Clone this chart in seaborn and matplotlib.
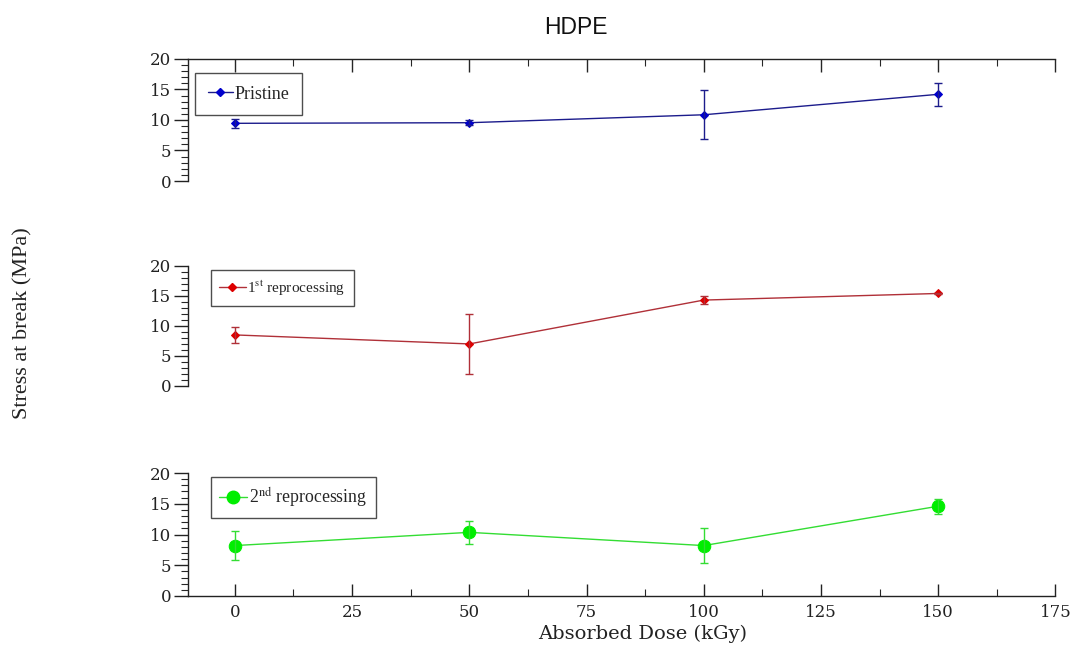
import matplotlib
matplotlib.use("Agg")
import matplotlib.pyplot as plt
from matplotlib.ticker import MultipleLocator
from matplotlib.lines import Line2D
import seaborn as sns
import pandas as pd

# ---- data ----
dose = [0, 50, 100, 150]
pristine = [9.45, 9.55, 10.85, 14.2]
pristine_err = [0.75, 0.4, 4.05, 1.9]
rep1 = [8.5, 7.0, 14.3, 15.4]
rep1_err = [1.4, 5.0, 0.7, 0.1]
rep2 = [8.2, 10.35, 8.2, 14.6]
rep2_err = [2.4, 1.85, 2.85, 1.25]
series_labels = ["Pristine", r"1$^{\mathrm{st}}$ reprocessing", r"2$^{\mathrm{nd}}$ reprocessing"]
x_ticks = [0, 25, 50, 75, 100, 125, 150, 175]
y_ticks = [0, 5, 10, 15, 20]

sns.set_theme(style="white")
plt.rcParams["font.family"] = ["DejaVu Serif"]
plt.rcParams["mathtext.fontset"] = "stix"

fig = plt.figure(figsize=(10.71, 6.46), dpi=100)
left, width = 0.1755, 0.81
boxes = [(0.7198, 0.189), (0.4025, 0.186), (0.0774, 0.1904)]

series = [
    (pristine, pristine_err, "#1c1c8c", "#0000cc", "D", 4, 1.0),
    (rep1, rep1_err, "#b03038", "#dd0000", "D", 4, 1.0),
    (rep2, rep2_err, "#33dd33", "#00ee00", "o", 9, 1.0),
]
legend_specs = [
    dict(anchor=(0.008, 0.885), fontsize=13, family="Liberation Serif", hl=1.4, bp=0.7),
    dict(anchor=(0.026, 0.965), fontsize=11, family="Liberation Serif", hl=1.75, bp=0.55),
    dict(anchor=(0.026, 0.97), fontsize=12.8, family="Liberation Serif", hl=1.55, bp=0.5),
]

axes = []
for i, ((bot, h), (vals, errs, lc, mc, mk, ms, lw), lab, lspec) in enumerate(
        zip(boxes, series, series_labels, legend_specs)):
    ax = fig.add_axes([left, bot, width, h])
    axes.append(ax)
    df = pd.DataFrame({"dose": dose, "val": vals})
    sns.lineplot(data=df, x="dose", y="val", ax=ax, color=lc, linewidth=lw,
                 marker=mk, markersize=ms, markerfacecolor=mc, markeredgecolor=mc)
    ax.errorbar(dose, vals, yerr=errs, fmt="none", ecolor=lc, elinewidth=1.0,
                capsize=3, capthick=1.0)
    ax.set_xlim(-10, 175)
    ax.set_ylim(0, 20)
    ax.set_xlabel("")
    ax.set_ylabel("")
    ax.set_yticks(y_ticks)
    ax.yaxis.set_minor_locator(MultipleLocator(1))
    ax.tick_params(axis="y", which="major", direction="out", length=10, width=1,
                   labelsize=12, pad=2, left=True, colors="#222222")
    ax.tick_params(axis="y", which="minor", direction="out", length=5, width=0.8, left=True)
    ax.set_xticks(x_ticks)
    ax.xaxis.set_minor_locator(MultipleLocator(12.5))
    for s in ["left", "right", "top", "bottom"]:
        ax.spines[s].set_color("#222222")
        ax.spines[s].set_linewidth(1.0)
    ax.spines["right"].set_visible(False)
    if i == 0:
        ax.spines["bottom"].set_visible(False)
        ax.xaxis.tick_top()
        ax.tick_params(axis="x", which="major", direction="in", length=9, width=1,
                       top=True, bottom=False, labeltop=False, labelbottom=False)
        ax.tick_params(axis="x", which="minor", direction="in", length=5, width=0.8,
                       top=True, bottom=False)
    elif i == 1:
        ax.spines["bottom"].set_visible(False)
        ax.spines["top"].set_visible(False)
        ax.tick_params(axis="x", which="both", top=False, bottom=False,
                       labeltop=False, labelbottom=False)
    else:
        ax.spines["top"].set_visible(False)
        ax.tick_params(axis="x", which="major", direction="in", length=9, width=1,
                       bottom=True, top=False, labelsize=12, pad=6, colors="#222222")
        ax.tick_params(axis="x", which="minor", direction="in", length=5, width=0.8,
                       bottom=True, top=False)
    handle = Line2D([], [], color=lc, linewidth=lw, marker=mk, markersize=ms,
                    markerfacecolor=mc, markeredgecolor=mc)
    leg = ax.legend([handle], [lab], loc="upper left", bbox_to_anchor=lspec["anchor"],
                    prop={"family": lspec["family"], "size": lspec["fontsize"]},
                    frameon=True, fancybox=False, handlelength=lspec["hl"], handletextpad=0.1,
                    borderpad=lspec["bp"], borderaxespad=0)
    leg.get_frame().set_edgecolor("#222222")
    leg.get_frame().set_linewidth(1.0)

fig.text(0.538, 0.958, "HDPE", ha="center", va="center", fontsize=16.5,
         family="Liberation Sans", color="#111111")
fig.text(0.021, 0.50, "Stress at break (MPa)", ha="center", va="center", rotation=90,
         fontsize=16, family="Liberation Serif", color="#222222")
fig.text(0.600, 0.018, "Absorbed Dose (kGy)", ha="center", va="center",
         fontsize=14, family="DejaVu Serif", color="#222222")

fig.savefig("out.png", dpi=100, facecolor="white")
